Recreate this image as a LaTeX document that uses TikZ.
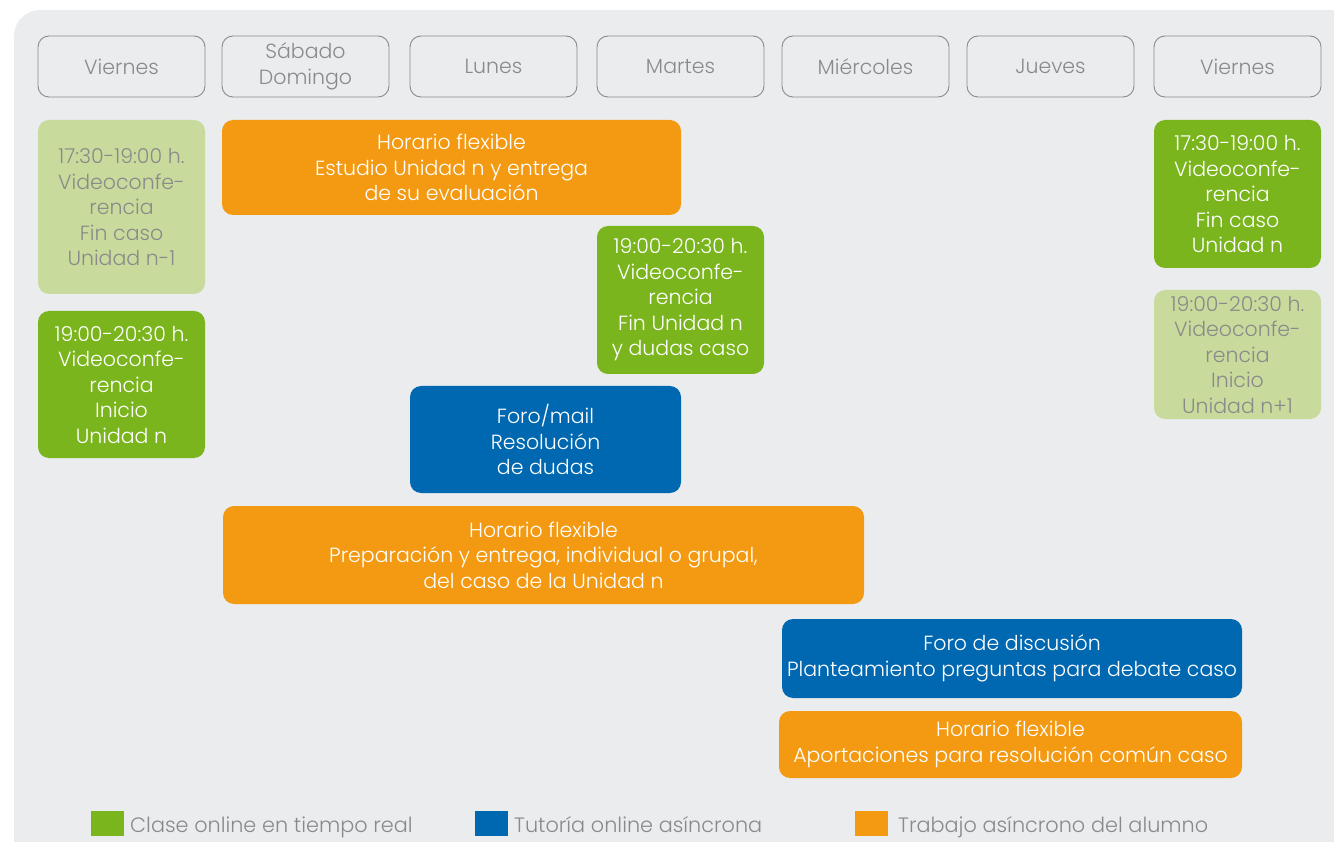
\documentclass[tikz,border=0pt]{standalone}
\usepackage{fontspec}
\setmainfont{Poppins Light}
\usepackage{tikz}
\usetikzlibrary{positioning}

\definecolor{bgcol}{HTML}{EBECEE}
\definecolor{daycol}{HTML}{8A8A8A}
\definecolor{livecol}{HTML}{7AB51D}
\definecolor{palecol}{HTML}{C8DB9C}
\definecolor{tutorcol}{HTML}{0068B1}
\definecolor{workcol}{HTML}{F39A12}

\begin{document}
\begin{tikzpicture}[x=1pt,y=-1pt,
  every node/.style={inner sep=0pt, align=center, font=\fontsize{20.5}{25.5}\selectfont},
  day/.style={draw=daycol, line width=0.9pt, rounded corners=11pt, text=daycol, minimum width=167pt, minimum height=61pt},
  slot/.style={rounded corners=11pt, text=white},
  live/.style={slot, fill=livecol},
  pale/.style={slot, fill=palecol, text=daycol},
  tutor/.style={slot, fill=tutorcol},
  work/.style={slot, fill=workcol},
  key/.style={anchor=base west, text=daycol, font=\fontsize{20.8}{25}\selectfont}]
  \useasboundingbox (0,0) rectangle (1334,842);
  \clip (0,0) rectangle (1334,842);
  \fill[bgcol, rounded corners=26pt] (14,10) rectangle (1380,900);
  \node[day] (vie) at (121.5,66.5) {Viernes};
  \node[day] (sab) at (305.5,66.5) {Sábado\\Domingo};
  \node[day] (lun) at (493.5,66.5) {Lunes};
  \node[day] (mar) at (680.5,66.5) {Martes};
  \node[day] (mie) at (865.5,66.5) {Miércoles};
  \node[day] (jue) at (1050.5,66.5) {Jueves};
  \node[day] (vie2) at (1237.5,66.5) {Viernes};
  \node[pale, minimum width=167pt, minimum height=174pt] (finprev) at (121.5,207) {17:30-19:00 h.\\Videoconfe-\\rencia\\Fin caso\\Unidad n-1};
  \node[live, minimum width=167pt, minimum height=147pt] (inicio) at (121.5,384.5) {19:00-20:30 h.\\Videoconfe-\\rencia\\Inicio\\Unidad n};
  \node[work, minimum width=459pt, minimum height=95pt] (estudio) at (451.5,167.5) {Horario flexible\\Estudio Unidad n y entrega\\de su evaluación};
  \node[live, minimum width=167pt, minimum height=148pt] (finunidad) at (680.5,300) {19:00-20:30 h.\\Videoconfe-\\rencia\\Fin Unidad n\\y dudas caso};
  \node[tutor, minimum width=271pt, minimum height=107pt] (foro) at (545.5,439.5) {Foro/mail\\Resolución\\de dudas};
  \node[work, minimum width=641pt, minimum height=98pt] (caso) at (543.5,555) {Horario flexible\\Preparación y entrega, individual o grupal,\\del caso de la Unidad n};
  \node[tutor, minimum width=460pt, minimum height=79pt] (debate) at (1012,658.5) {Foro de discusión\\Planteamiento preguntas para debate caso};
  \node[work, minimum width=463pt, minimum height=67pt] (aporte) at (1010.5,744.5) {Horario flexible\\Aportaciones para resolución común caso};
  \node[live, minimum width=167pt, minimum height=148pt] (fincaso) at (1237.5,194) {17:30-19:00 h.\\Videoconfe-\\rencia\\Fin caso\\Unidad n};
  \node[pale, minimum width=167pt, minimum height=129pt] (sigue) at (1237.5,354.5) {19:00-20:30 h.\\Videoconfe-\\rencia\\Inicio\\Unidad n+1};
  \fill[livecol] (91,811) rectangle (124,836);
  \node[key] (keylive) at (130,832) {Clase online en tiempo real};
  \fill[tutorcol] (475,811) rectangle (508,836);
  \node[key] (keytutor) at (514,832) {Tutoría online asíncrona};
  \fill[workcol] (855,811) rectangle (888,836);
  \node[key] (keywork) at (898,832) {Trabajo asíncrono del alumno};
\end{tikzpicture}
\end{document}
